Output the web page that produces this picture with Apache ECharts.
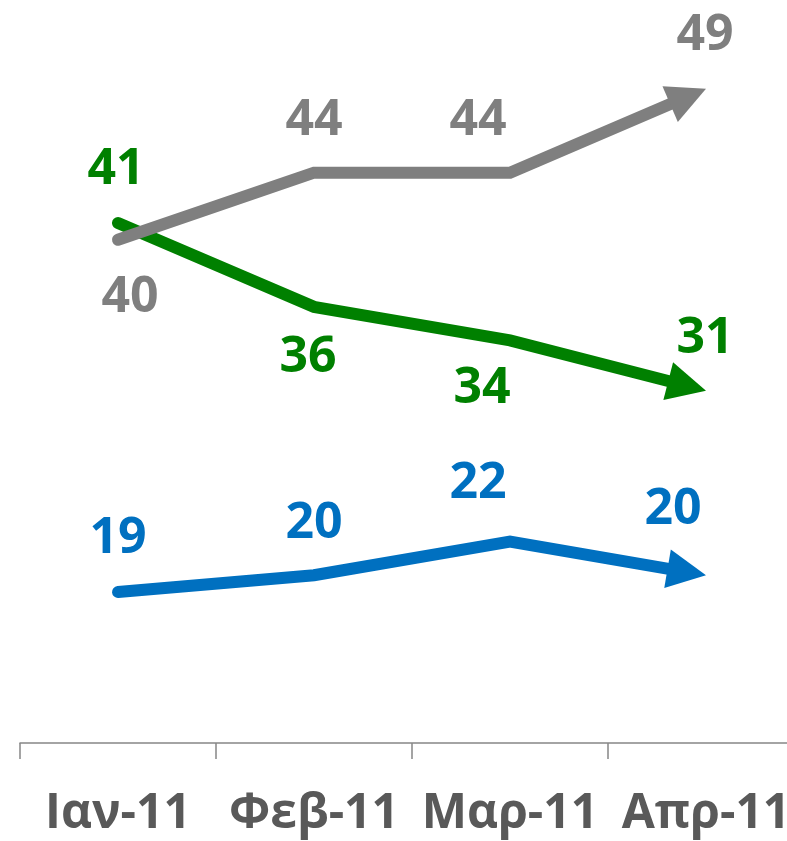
<!DOCTYPE html>
<html>
<head>
<meta charset="utf-8">
<script src="https://cdn.jsdelivr.net/npm/echarts@6/dist/echarts.min.js"></script>
<style>
html,body{margin:0;padding:0;background:#fff;overflow:hidden;width:787px;height:841px;}
#c{width:804px;height:841px;}
</style>
</head>
<body>
<div id="c"></div>
<script>
// ---- data ----
var categories = ['Ιαν-11', 'Φεβ-11', 'Μαρ-11', 'Απρ-11'];
var blueValues = [19, 20, 22, 20];
var greenValues = [41, 36, 34, 31];
var grayValues = [40, 44, 44, 49];

// ---- label offsets (styling only) ----
var blueLabelOffsets = [[0, -53], [0, -52], [-32, -58], [-33, -66]];
var greenLabelOffsets = [[-2, -53], [-6, 51], [-28, 48], [-1, -52]];
var grayLabelOffsets = [[12, 58], [0, -52], [-32, -52], [-1, -53]];

var COLORS = { blue: '#0070C0', green: '#008000', gray: '#7F7F7F' };
var FONT = 'Open Sans';

function arrowLineSeries(name, values, color) {
  var n = values.length;
  return {
    name: name,
    type: 'custom',
    coordinateSystem: 'cartesian2d',
    clip: false,
    data: values.map(function (v, i) { return [i, v]; }),
    encode: { x: 0, y: 1 },
    renderItem: function (params, api) {
      if (params.dataIndex !== n - 1) return null;
      var pts = values.map(function (v, i) { return api.coord([i, v]); });
      var tip = pts[n - 1], prev = pts[n - 2];
      var dx = tip[0] - prev[0], dy = tip[1] - prev[1];
      var len = Math.sqrt(dx * dx + dy * dy);
      var ux = dx / len, uy = dy / len;
      var L = 39, W = 39;
      var bx = tip[0] - ux * L, by = tip[1] - uy * L;
      var px = -uy, py = ux;
      var linePts = pts.slice(0, n - 1).concat([[bx + ux * 4, by + uy * 4]]);
      var tri = [tip, [bx + px * W / 2, by + py * W / 2], [bx - px * W / 2, by - py * W / 2]];
      return {
        type: 'group',
        children: [
          { type: 'polyline', shape: { points: linePts },
            style: { stroke: color, lineWidth: 12, fill: null, lineCap: 'round', lineJoin: 'miter' } },
          { type: 'polygon', shape: { points: tri }, style: { fill: color, stroke: null } }
        ]
      };
    },
    z: 2
  };
}

function labelSeries(name, values, offsets, color) {
  return {
    name: name + '-labels',
    type: 'scatter',
    symbolSize: 1,
    itemStyle: { color: 'rgba(0,0,0,0)', opacity: 1 },
    data: values.map(function (v, i) {
      return {
        value: [i, v],
        label: { offset: offsets[i] }
      };
    }),
    label: {
      show: true,
      position: 'inside',
      formatter: function (p) { return p.value[1]; },
      color: color,
      opacity: 1,
      fontFamily: FONT,
      fontWeight: 'bold',
      fontSize: 50
    },
    z: 3
  };
}

var chart = echarts.init(document.getElementById('c'), null, { renderer: 'canvas' });
chart.setOption({
  animation: false,
  backgroundColor: '#ffffff',
  grid: { left: 20, top: 72, right: 0, bottom: 98, containLabel: false },
  xAxis: {
    type: 'category',
    data: categories,
    boundaryGap: true,
    axisLine: { show: true, lineStyle: { color: '#868686', width: 1.5 } },
    axisTick: { show: true, length: 16, lineStyle: { color: '#868686', width: 1.5 } },
    axisLabel: {
      show: true,
      interval: 0,
      margin: 47,
      color: '#595959',
      fontFamily: FONT,
      fontWeight: 'bold',
      fontSize: 48
    },
    splitLine: { show: false }
  },
  yAxis: {
    type: 'value',
    min: 10,
    max: 50,
    show: false,
    splitLine: { show: false }
  },
  series: [
    arrowLineSeries('blue', blueValues, COLORS.blue),
    arrowLineSeries('green', greenValues, COLORS.green),
    arrowLineSeries('gray', grayValues, COLORS.gray),
    labelSeries('blue', blueValues, blueLabelOffsets, COLORS.blue),
    labelSeries('green', greenValues, greenLabelOffsets, COLORS.green),
    labelSeries('gray', grayValues, grayLabelOffsets, COLORS.gray)
  ]
});
</script>
</body>
</html>
